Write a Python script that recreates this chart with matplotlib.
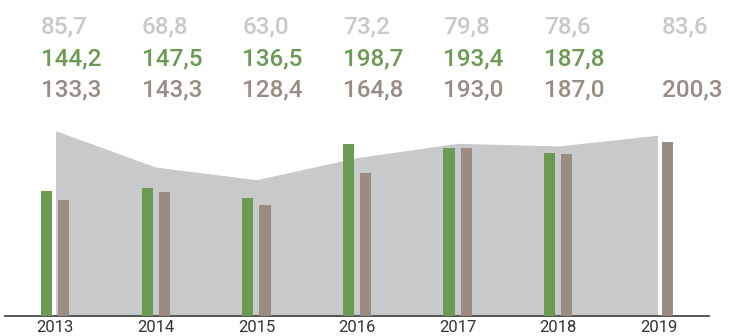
import numpy as np
import matplotlib.pyplot as plt
from matplotlib.transforms import blended_transform_factory

years = ["2013", "2014", "2015", "2016", "2017", "2018", "2019"]
area_vals = [85.7, 68.8, 63.0, 73.2, 79.8, 78.6, 83.6]
green_vals = [144.2, 147.5, 136.5, 198.7, 193.4, 187.8, None]
taupe_vals = [133.3, 143.3, 128.4, 164.8, 193.0, 187.0, 200.3]

GREEN = "#6b9b52"
TAUPE = "#9a8c82"
AREA = "#c8c9cb"
LIGHT = "#c9c9c9"

plt.rcParams["font.family"] = ["Roboto", "DejaVu Sans"]

fig = plt.figure(figsize=(7.33, 3.36), dpi=100)
W, H = 733, 336
ax = fig.add_axes([5 / W, 20 / H, 704 / W, 206 / H])
ax2 = ax.twinx()
ax.set_zorder(2)
ax.patch.set_visible(False)

x = np.arange(len(years))
bw = 0.11
off = 0.085

# grey background area, on its own scale
ax2.fill_between(x, area_vals, 0, color=AREA, lw=0, zorder=1)
ax2.plot([x[0], x[0]], [0, area_vals[0]], color="white", lw=1.5)
ax2.plot([x[-1], x[-1]], [0, area_vals[-1]], color="white", lw=1.5)
ax2.set_ylim(0, 95.2)

for i in x:
    if green_vals[i] is not None:
        ax.bar(i - off, green_vals[i], bw, color=GREEN, zorder=3)
    ax.bar(i + off, taupe_vals[i], bw, color=TAUPE, zorder=3)

ax.set_xlim(-0.5, 6.5)
ax.set_ylim(0, 237.3)

for a in (ax, ax2):
    for s in a.spines.values():
        s.set_visible(False)
    a.set_yticks([])
ax.spines["bottom"].set_visible(True)
ax.spines["bottom"].set_color("#4a4a4a")
ax.spines["bottom"].set_linewidth(1.3)
ax2.set_xticks([])

ax.set_xticks(x)
ax.set_xticklabels(years, fontsize=12, color="#333333")
ax.tick_params(axis="x", length=0, pad=3)

def fmt(v):
    return f"{v:.1f}".replace(".", ",")

tr = blended_transform_factory(ax.transData, fig.transFigure)
for i in x:
    left = i - off - bw / 2 if green_vals[i] is not None else i + off - bw / 2
    ax.text(left, 1 - 33.5 / H, fmt(area_vals[i]), transform=tr, color=LIGHT,
            fontsize=17.5, fontweight="medium", ha="left", va="baseline")
    if green_vals[i] is not None:
        ax.text(left, 1 - 65 / H, fmt(green_vals[i]), transform=tr, color=GREEN,
                fontsize=17.5, fontweight="medium", ha="left", va="baseline")
    ax.text(left, 1 - 96.5 / H, fmt(taupe_vals[i]), transform=tr, color=TAUPE,
            fontsize=17.5, fontweight="medium", ha="left", va="baseline")

fig.savefig("out.png", dpi=100)
